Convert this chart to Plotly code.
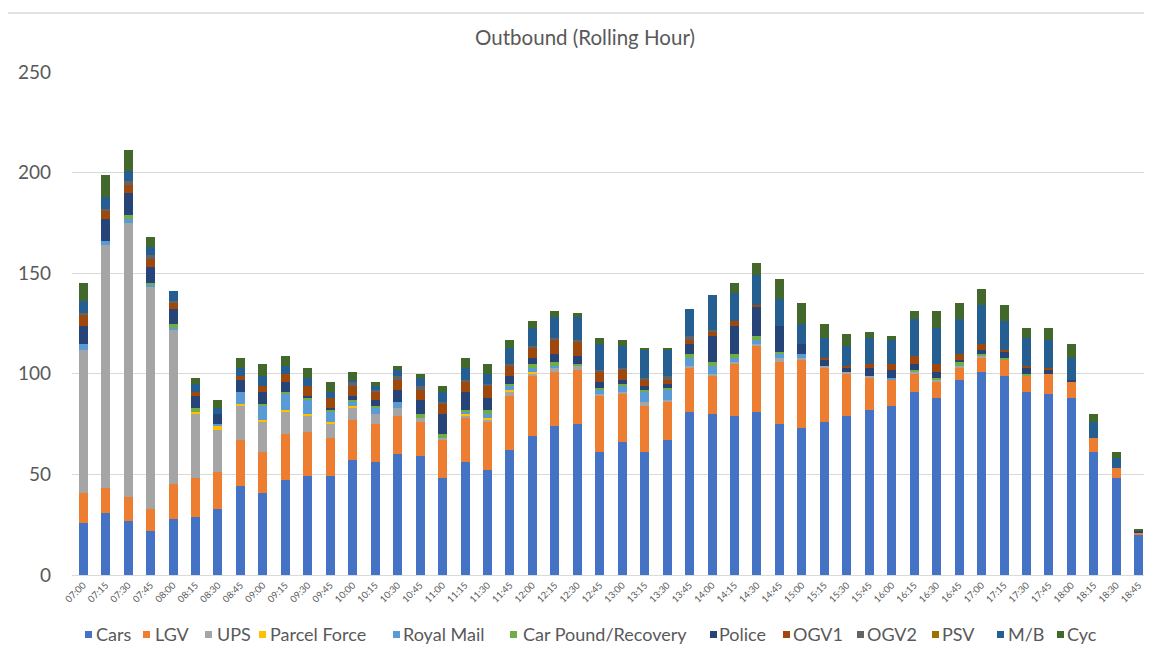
import plotly.graph_objects as go

times = ["07:00","07:15","07:30","07:45","08:00","08:15","08:30","08:45","09:00","09:15",
         "09:30","09:45","10:00","10:15","10:30","10:45","11:00","11:15","11:30","11:45",
         "12:00","12:15","12:30","12:45","13:00","13:15","13:30","13:45","14:00","14:15",
         "14:30","14:45","15:00","15:15","15:30","15:45","16:00","16:15","16:30","16:45",
         "17:00","17:15","17:30","17:45","18:00","18:15","18:30","18:45"]

cars = [26,31,27,22,28,29,33,44,41,47, 49,49,57,56,60,59,48,56,52,62,
        69,74,75,61,66,61,67,81,80,79, 81,75,73,76,79,82,84,91,88,97,
        101,99,91,90,88,61,48,20]
lgv = [15,12,12,11,17,19,18,23,20,23, 22,19,20,19,19,17,19,22,24,27,
       30,27,27,28,24,23,19,22,19,26, 33,31,34,27,21,16,13,9,8,6,
       7,8,8,10,8,7,5,1]
ups = [71,121,136,110,77,32,21,17,15,11, 8,7,6,5,4,2,1,1,1,2,
       1,2,2,1,1,2,1,1,1,1, 1,2,1,1,1,1,0,1,1,1,
       1,0,0,0,0,0,0,0]
parcel_force = [0,0,0,0,0,1,2,1,1,1, 1,1,1,0,0,0,0,1,1,1,
                1,0,0,0,0,0,0,0,0,0, 0,0,0,0,0,0,0,0,0,0,
                0,0,0,0,0,0,0,0]
royal_mail = [3,2,2,1,1,0,1,6,7,8, 7,5,2,3,3,0,0,1,2,2,
              2,1,0,2,3,5,5,4,4,2, 2,2,2,0,0,0,1,0,0,0,
              0,0,0,0,0,0,0,0]
car_pound = [0,0,2,1,2,2,0,0,1,1, 1,1,1,1,0,2,2,1,2,1,
             2,2,1,1,1,1,1,2,2,2, 2,1,0,0,0,0,0,1,1,2,
             1,1,1,0,0,0,0,0]
police = [9,11,11,8,7,6,5,6,6,5, 1,1,2,3,6,7,10,9,6,4,
          3,4,4,3,2,2,2,5,13,14, 14,13,5,3,2,4,4,3,3,1,
          2,3,3,2,1,0,0,1]
ogv1 = [5,4,4,4,3,2,0,2,3,4, 5,5,5,4,5,5,5,5,6,5,
        5,7,7,5,5,3,2,2,2,2, 1,0,0,1,1,2,3,4,4,3,
        3,1,1,1,0,0,0,0]
ogv2 = [1,1,2,2,1,0,0,0,0,0, 0,0,2,1,2,2,1,1,1,1,
        1,1,1,1,1,1,2,2,1,0, 0,0,0,0,0,0,0,0,0,0,
        0,0,0,0,0,0,0,0]
psv = [0,0,0,0,0,0,0,0,0,0, 0,0,0,0,0,0,0,0,0,0,
       0,0,0,0,0,0,0,0,0,0, 0,0,0,0,0,0,0,0,0,0,
       0,0,0,0,0,0,0,0]
mb = [6,6,5,4,5,4,3,4,5,4, 4,3,1,2,3,4,5,6,5,8,
      9,10,11,13,11,14,13,13,17,14, 15,13,10,10,10,13,12,18,18,17,
      19,14,14,14,11,8,5,0]
cyc = [9,11,10,5,0,3,4,5,6,5, 5,5,4,2,2,2,3,5,5,4,
       3,3,2,3,3,1,1,0,0,5, 6,10,10,7,6,3,2,4,8,8,
       8,8,5,6,7,4,3,1]

series_names = ["Cars","LGV","UPS","Parcel Force","Royal Mail","Car Pound/Recovery",
                "Police","OGV1","OGV2","PSV","M/B","Cyc"]
series_values = [cars, lgv, ups, parcel_force, royal_mail, car_pound,
                 police, ogv1, ogv2, psv, mb, cyc]
series_colors = ["#4472C4","#ED7D31","#A5A5A5","#FFC000","#5B9BD5","#70AD47",
                 "#264478","#9E480E","#636363","#997300","#255E91","#43682B"]

FONT = "Lato, 'Open Sans', sans-serif"
TXT = "#595959"

# page body has an 8px margin: figure drawn at (8, 8) on screen
W, H = 1144, 645
L, T, PW, PH = 64, 64, 1078, 503


def px_x(sx):  # screen x -> paper x
    return (sx - 8 - L) / PW


def px_y(sy):  # screen y -> paper y
    return (T + PH - (sy - 8)) / PH


fig = go.Figure()
for name, vals, col in zip(series_names, series_values, series_colors):
    fig.add_trace(go.Bar(x=times, y=vals, name=name,
                         marker=dict(color=col, line=dict(width=0))))

# legend row (Excel-style): small square key + label, laid out along the bottom
key_left = [85, 143, 205, 259, 393, 510, 710, 783, 857, 932, 997, 1057]
text_left = [95, 154, 216, 269, 402, 522, 718, 792, 866, 941, 1007, 1066]
shapes = [dict(type="rect", xref="paper", yref="paper",
               x0=px_x(0), x1=1.05, y0=-0.3, y1=px_y(13),
               line=dict(color="#d9d9d9", width=1.5), layer="below")]
annotations = []
for name, col, kx, tx in zip(series_names, series_colors, key_left, text_left):
    shapes.append(dict(type="rect", xref="paper", yref="paper",
                       x0=px_x(kx), x1=px_x(kx + 7), y0=px_y(638), y1=px_y(631),
                       fillcolor=col, line=dict(width=0)))
    annotations.append(dict(text=name, xref="paper", yref="paper",
                            x=px_x(tx), y=px_y(634), xanchor="left", yanchor="middle",
                            showarrow=False, borderpad=0,
                            font=dict(size=18, color=TXT, family=FONT)))

fig.update_layout(
    barmode="stack",
    bargap=0.6,
    width=W, height=H,
    margin=dict(l=L, r=W - L - PW, t=T, b=H - T - PH, autoexpand=False),
    paper_bgcolor="white", plot_bgcolor="white",
    font=dict(family=FONT, color=TXT),
    showlegend=False,
    title=dict(text="Outbound (Rolling Hour)", x=577/W, xref="container",
               xanchor="center", y=1 - 30/H, yref="container", yanchor="middle",
               font=dict(size=20.5, color=TXT, family=FONT)),
    xaxis=dict(type="category", tickangle=-45, tickfont=dict(size=9.5, color=TXT),
               showgrid=False, showline=True, linecolor="#d9d9d9", linewidth=1,
               ticks="", automargin=False),
    yaxis=dict(range=[0, 250], dtick=50, showgrid=True, gridcolor="#d9d9d9",
               gridwidth=1, zeroline=False, showline=False, automargin=False,
               tickfont=dict(size=19, color=TXT), ticklabelstandoff=20),
    shapes=shapes,
    annotations=annotations,
)

fig.write_html("out.html")
